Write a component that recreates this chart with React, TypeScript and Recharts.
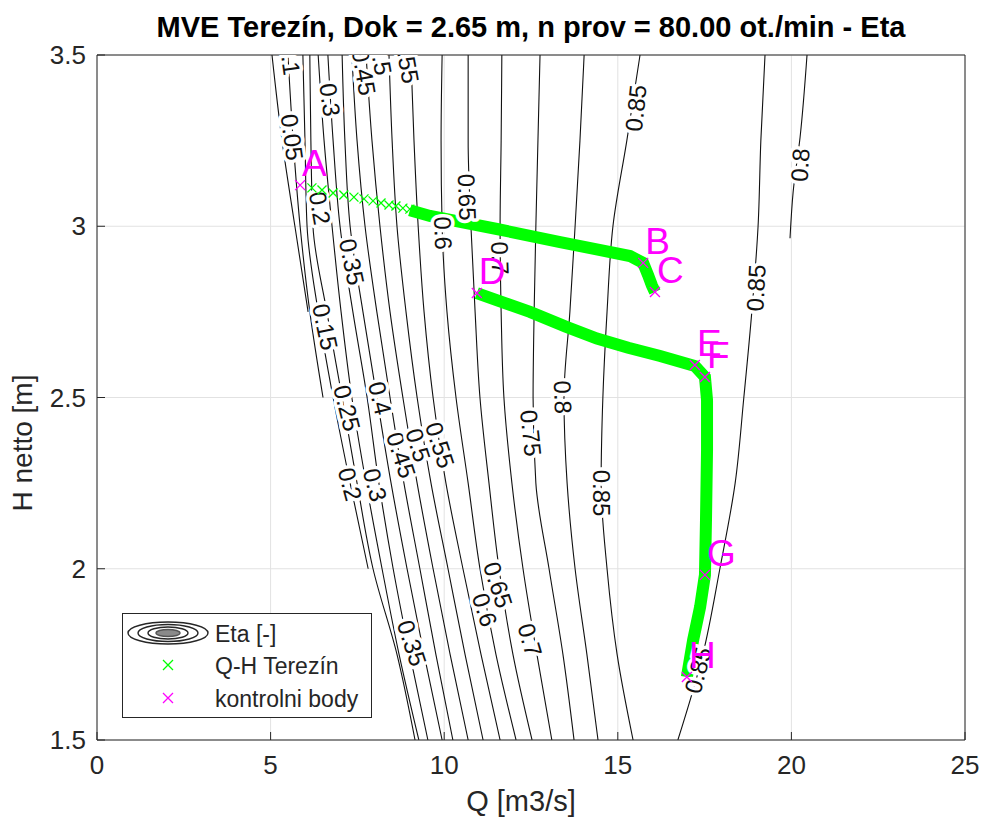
import React from 'react';
import { ComposedChart, Line, Scatter, XAxis, YAxis, CartesianGrid, Legend } from 'recharts';

const FONT = '"Liberation Sans", Arial, Helvetica, sans-serif';
const INK = '#262626';
const GREEN = '#00ff00';
const MAGENTA = '#ff00ff';

const Q_TICKS = [0, 5, 10, 15, 20, 25];
const H_TICKS = [1.5, 2, 2.5, 3, 3.5];

// head rows (m) where every isoline below is sampled, top to bottom
const H_ROWS = [3.5, 3.25, 3.0, 2.75, 2.5, 2.25, 2.0, 1.75, 1.5];

// discharge (m3/s) of each efficiency isoline at those rows
const Q_ETA_005 = [5.04, 5.33, 5.7, 6.08];
const Q_ETA_010 = [5.5, 5.65, 5.85, 6.13, 6.51];
const Q_ETA_015 = [5.93, 5.99, 6.05, 6.37, 6.8, 7.29, 7.81];
const Q_ETA_020 = [6.13, 6.16, 6.22, 6.62, 7.06, 7.49, 7.95, 8.64, 9.16];
const Q_ETA_025 = [6.37, 6.54, 6.77, 7.03, 7.34, 7.75, 8.21, 8.7, 9.27];
const Q_ETA_030 = [6.65, 6.8, 7.0, 7.37, 7.78, 8.12, 8.53, 9.01, 9.53];
const Q_ETA_035 = [7.06, 7.14, 7.29, 7.66, 8.06, 8.47, 8.93, 9.42, 9.94];
const Q_ETA_040 = [7.34, 7.49, 7.72, 8.06, 8.44, 8.84, 9.3, 9.76, 10.25];
const Q_ETA_045 = [7.75, 7.92, 8.15, 8.44, 8.81, 9.22, 9.68, 10.17, 10.69];
const Q_ETA_050 = [8.41, 8.5, 8.64, 8.9, 9.22, 9.62, 10.11, 10.6, 11.12];
const Q_ETA_055 = [9.04, 9.13, 9.25, 9.42, 9.68, 10.05, 10.54, 11.06, 11.61];
const Q_ETA_060 = [9.94, 9.91, 9.94, 10.08, 10.34, 10.69, 11.03, 11.49, 12.07];
const Q_ETA_065 = [10.69, 10.69, 10.77, 10.89, 11.03, 11.29, 11.58, 11.98, 12.53];
const Q_ETA_070 = [11.66, 11.64, 11.61, 11.64, 11.72, 11.95, 12.27, 12.67, 13.1];
const Q_ETA_075 = [12.76, 12.7, 12.64, 12.59, 12.56, 12.64, 13.02, 13.42, 13.74];
const Q_ETA_080 = [14.03, 13.91, 13.77, 13.62, 13.45, 13.54, 13.77, 14.11, 14.43];
const Q_ETA_085_L = [15.64, 15.26, 14.86, 14.69, 14.57, 14.52, 14.69, 14.98, 15.44];
const Q_ETA_085_R = [19.24, 19.12, 19.04, 18.86, 18.63, 18.38, 17.94, 17.45, 16.73];
// short 0.8 branch on the right only reaches down to ~2.97 m
const H_ETA_080_R = [3.5, 3.26, 3.1, 2.965];
const Q_ETA_080_R = [20.45, 20.25, 20.05, 19.96];

// inline isoline labels
const LABEL_TEXT = ['0.1', '0.05', '0.3', '0.45', '0.5', '0.55', '0.2', '0.35', '0.15', '0.25', '0.4', '0.45', '0.5', '0.55', '0.2', '0.3', '0.35', '0.6', '0.65', '0.7', '0.75', '0.8', '0.85', '0.65', '0.6', '0.7', '0.85', '0.8', '0.85', '0.85'];
const LABEL_Q = [5.56, 5.62, 6.71, 7.69, 8.18, 8.93, 6.42, 7.34, 6.57, 7.2, 8.15, 8.76, 9.25, 9.88, 7.29, 8.01, 9.07, 9.97, 10.66, 11.61, 12.5, 13.42, 14.52, 11.55, 11.17, 12.47, 15.52, 20.25, 18.98, 17.31];
const LABEL_H = [3.49, 3.26, 3.369, 3.45, 3.49, 3.485, 3.053, 2.896, 2.706, 2.469, 2.498, 2.332, 2.361, 2.361, 2.247, 2.245, 1.783, 2.98, 3.085, 2.907, 2.396, 2.501, 2.221, 1.953, 1.88, 1.792, 3.345, 3.179, 2.82, 1.704];
const LABEL_TILT = [82, 82, 82, 80, 80, 80, 80, 78, 78, 76, 76, 72, 72, 72, 75, 75, 72, 88, 88, 88, 84, 88, 90, 72, 72, 74, -84, -86, -87, -75];

// measured Q-H operating points, Terezín
const QH_SPARSE_Q = [6.19, 6.48, 6.8, 7.11, 7.4, 7.69, 7.95, 8.18, 8.41, 8.61, 8.81, 9.01];
const QH_SPARSE_H = [3.112, 3.106, 3.097, 3.091, 3.085, 3.08, 3.074, 3.068, 3.062, 3.059, 3.053, 3.05];
const QH_UPPER_Q = [9.01, 9.59, 11.52, 13.34, 15.35, 15.73, 15.87, 15.98, 16.07];
const QH_UPPER_H = [3.047, 3.03, 2.992, 2.954, 2.913, 2.893, 2.858, 2.828, 2.808];
const QH_LOWER_Q = [10.94, 12.47, 13.5, 14.4, 15.3, 16.22, 17.22, 17.51, 17.57, 17.57, 17.54, 17.51, 17.37, 17.17, 16.99];
const QH_LOWER_H = [2.805, 2.75, 2.707, 2.672, 2.645, 2.621, 2.592, 2.56, 2.493, 2.347, 2.142, 1.982, 1.888, 1.792, 1.684];

// control points
const CTRL_NAME = ['A', 'B', 'C', 'D', 'E', 'F', 'G', 'H'];
const CTRL_Q = [5.85, 15.73, 16.07, 10.94, 17.22, 17.51, 17.51, 16.99];
const CTRL_H = [3.12, 2.893, 2.808, 2.805, 2.595, 2.56, 1.982, 1.684];

const pts = (qs: number[], hs: number[]) => qs.map((q, i) => ({ q, h: hs[i] }));

const isolines = [
  Q_ETA_005, Q_ETA_010, Q_ETA_015, Q_ETA_020, Q_ETA_025, Q_ETA_030, Q_ETA_035, Q_ETA_040, Q_ETA_045,
  Q_ETA_050, Q_ETA_055, Q_ETA_060, Q_ETA_065, Q_ETA_070, Q_ETA_075, Q_ETA_080, Q_ETA_085_L, Q_ETA_085_R,
].map((qs) => pts(qs, H_ROWS));
isolines.push(pts(Q_ETA_080_R, H_ETA_080_R));

const labelData = LABEL_TEXT.map((text, i) => ({ q: LABEL_Q[i], h: LABEL_H[i], text, tilt: LABEL_TILT[i] }));
const sparseData = pts(QH_SPARSE_Q, QH_SPARSE_H);
const upperData = pts(QH_UPPER_Q, QH_UPPER_H);
const lowerData = pts(QH_LOWER_Q, QH_LOWER_H);
const ctrlData = CTRL_NAME.map((name, i) => ({ q: CTRL_Q[i], h: CTRL_H[i], name }));

const cross = (cx: number, cy: number, r: number, color: string, w = 1.3) => (
  <path d={`M${cx - r},${cy - r}L${cx + r},${cy + r}M${cx - r},${cy + r}L${cx + r},${cy - r}`} stroke={color} strokeWidth={w} fill="none" />
);

const IsoLabel = (p: any) => {
  const { cx, cy, payload } = p;
  return (
    <text
      x={cx}
      y={cy}
      transform={`rotate(${payload.tilt} ${cx} ${cy})`}
      textAnchor="middle"
      dominantBaseline="central"
      fontFamily={FONT}
      fontSize={24}
      fill="#111"
      stroke="#fff"
      strokeWidth={7}
      strokeLinejoin="round"
      style={{ paintOrder: 'stroke' }}
    >
      {payload.text}
    </text>
  );
};

const GreenMark = (p: any) => <g>{cross(p.cx, p.cy, 4.5, GREEN)}</g>;

const CtrlMark = (p: any) => (
  <g>
    {cross(p.cx, p.cy, 5, MAGENTA)}
    <text x={p.cx + 2} y={p.cy - 9} fontFamily={FONT} fontSize={37} fill={MAGENTA}>
      {p.payload.name}
    </text>
  </g>
);

const LegendBox = () => (
  <svg width={250} height={105} style={{ display: 'block' }}>
    <rect x={0.5} y={0.5} width={249} height={104} fill="#fff" stroke={INK} />
    <g transform="translate(46,20)" fill="none" stroke={INK} strokeWidth={1.4}>
      <ellipse rx={40} ry={11} />
      <ellipse rx={30} ry={8.5} />
      <ellipse rx={20} ry={6} />
      <ellipse rx={12} ry={3.5} fill="#8a8a8a" stroke="#555" />
    </g>
    {cross(46, 52, 5, GREEN)}
    {cross(46, 85, 5, MAGENTA)}
    <g fontFamily={FONT} fontSize={23} fill={INK} dominantBaseline="central">
      <text x={93} y={21}>Eta [-]</text>
      <text x={93} y={53}>Q-H Terezín</text>
      <text x={93} y={86}>kontrolni body</text>
    </g>
  </svg>
);

// axis titles, placed where the figure has them
const QLabel = () => (
  <text x={521} y={811} textAnchor="middle" fontFamily={FONT} fontSize={29} fill={INK}>
    Q [m3/s]
  </text>
);
const HLabel = () => (
  <text x={32} y={443} transform="rotate(-90 32 443)" textAnchor="middle" fontFamily={FONT} fontSize={28} fill={INK}>
    H netto [m]
  </text>
);

const tickStyle = { fill: INK, fontSize: 26, fontFamily: FONT };

export default function App() {
  return (
    <div style={{ position: 'absolute', left: 0, top: 0, width: 984, height: 824, background: '#fff' }}>
      <div
        style={{
          position: 'absolute',
          left: 97,
          width: 868,
          top: 11,
          textAlign: 'center',
          fontFamily: FONT,
          fontWeight: 'bold',
          fontSize: 29,
          color: '#000',
          whiteSpace: 'nowrap',
        }}
      >
        MVE Terezín, Dok = 2.65 m, n prov = 80.00 ot./min - Eta
      </div>
      <ComposedChart width={984} height={824} margin={{ top: 54, right: 18, bottom: 0, left: 0 }}>
        <CartesianGrid stroke="#e2e2e2" strokeWidth={1} />
        <XAxis
          type="number"
          dataKey="q"
          domain={[0, 25]}
          ticks={Q_TICKS}
          allowDataOverflow
          height={84}
          axisLine={{ stroke: INK }}
          tickLine={{ stroke: INK }}
          tickSize={-8}
          tickMargin={24}
          tick={tickStyle}
          label={<QLabel />}
        />
        <XAxis
          xAxisId="top"
          orientation="top"
          type="number"
          dataKey="q"
          domain={[0, 25]}
          ticks={Q_TICKS}
          allowDataOverflow
          height={1}
          axisLine={{ stroke: INK }}
          tickLine={{ stroke: INK }}
          tickSize={-8}
          tick={false}
        />
        <YAxis
          type="number"
          dataKey="h"
          domain={[1.5, 3.5]}
          ticks={H_TICKS}
          allowDataOverflow
          width={97}
          axisLine={{ stroke: INK }}
          tickLine={{ stroke: INK }}
          tickSize={-8}
          tickMargin={19}
          tick={tickStyle}
          label={<HLabel />}
        />
        <YAxis
          yAxisId="right"
          orientation="right"
          type="number"
          domain={[1.5, 3.5]}
          ticks={H_TICKS}
          allowDataOverflow
          width={1}
          axisLine={{ stroke: INK }}
          tickLine={{ stroke: INK }}
          tickSize={-8}
          tick={false}
        />

        {isolines.map((d, i) => (
          <Line
            key={`iso-${i}`}
            data={d}
            dataKey="h"
            type="monotoneY"
            stroke="#111"
            strokeWidth={1.1}
            dot={false}
            activeDot={false}
            isAnimationActive={false}
          />
        ))}
        <Scatter data={labelData} dataKey="h" shape={IsoLabel} isAnimationActive={false} />

        <Line data={upperData} dataKey="h" type="linear" stroke={GREEN} strokeWidth={12} dot={false} activeDot={false} isAnimationActive={false} />
        <Line data={lowerData} dataKey="h" type="linear" stroke={GREEN} strokeWidth={12} dot={false} activeDot={false} isAnimationActive={false} />
        <Scatter data={sparseData} dataKey="h" shape={GreenMark} isAnimationActive={false} />
        <Scatter data={ctrlData} dataKey="h" shape={CtrlMark} isAnimationActive={false} />

        <Legend
          layout="vertical"
          verticalAlign="middle"
          align="center"
          content={() => <LegendBox />}
          wrapperStyle={{ left: 122, top: 613, width: 250, height: 105 }}
        />
      </ComposedChart>
    </div>
  );
}
